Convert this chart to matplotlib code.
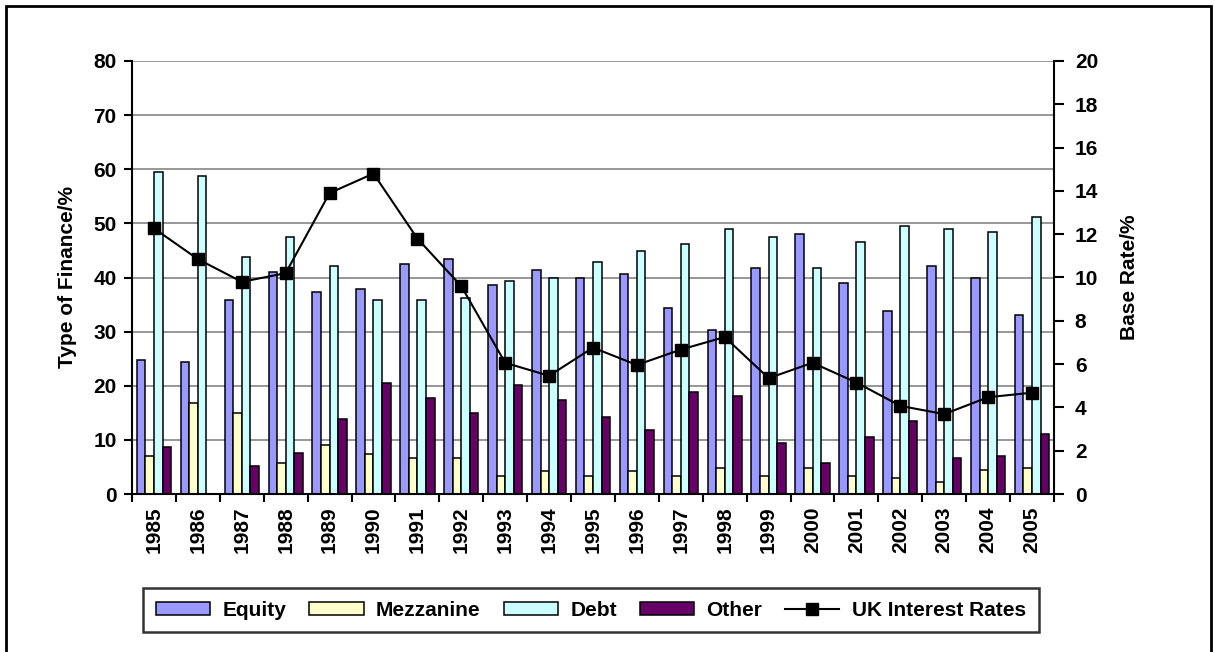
import numpy as np
import matplotlib.pyplot as plt
from matplotlib.patches import Rectangle

plt.rcParams['font.family'] = ['Liberation Sans', 'DejaVu Sans']
plt.rcParams['font.weight'] = 'bold'

years = [str(y) for y in range(1985, 2006)]
equity = [24.8, 24.4, 35.8, 41.0, 37.4, 37.8, 42.5, 43.4, 38.6, 41.4, 39.9,
          40.6, 34.3, 30.3, 41.8, 48.0, 38.9, 33.8, 42.2, 39.9, 33.1]
mezzanine = [7.1, 16.9, 14.9, 5.8, 9.0, 7.4, 6.7, 6.7, 3.4, 4.2, 3.4,
             4.2, 3.4, 4.8, 3.4, 4.8, 3.4, 3.0, 2.3, 4.4, 4.8]
debt = [59.5, 58.7, 43.7, 47.4, 42.2, 35.8, 35.8, 36.3, 39.3, 39.9, 42.9,
        44.9, 46.1, 48.9, 47.4, 41.8, 46.5, 49.6, 48.9, 48.4, 51.2]
other = [8.7, 0.0, 5.2, 7.5, 13.8, 20.5, 17.7, 14.9, 20.1, 17.4, 14.2,
         11.9, 18.9, 18.1, 9.4, 5.8, 10.6, 13.4, 6.7, 7.1, 11.0]
uk_rates = [12.27, 10.85, 9.8, 10.2, 13.9, 14.8, 11.8, 9.6, 6.06, 5.46, 6.76,
            5.96, 6.67, 7.25, 5.35, 6.06, 5.15, 4.07, 3.69, 4.47, 4.68]

series = [("Equity", equity, "#9999FF"),
          ("Mezzanine", mezzanine, "#FFFFCC"),
          ("Debt", debt, "#CCFFFF"),
          ("Other", other, "#660066")]

FS = 15
W, H = 1215, 652
fig = plt.figure(figsize=(W / 100, H / 100), dpi=100)
# plot area in pixels: x 132..1054, y 61..494
ax = fig.add_axes([132 / W, (H - 494) / H, 922 / W, 433 / H])

x = np.arange(len(years))
w = 0.195
handles = []
for i, (name, vals, col) in enumerate(series):
    b = ax.bar(x + (i - 1.5) * w, vals, w, color=col, edgecolor="black",
               linewidth=1.1, label=name, zorder=2)
    handles.append(b)

ax.set_xlim(-0.5, len(years) - 0.5)
ax.set_ylim(0, 80)
ax.set_yticks(range(0, 81, 10))
ax.yaxis.grid(True, color="#7a7a7a", linewidth=1.1)
ax.set_axisbelow(True)

ax.set_xticks(np.arange(-0.5, len(years), 1))
ax.set_xticklabels([])
ax.set_xticks(x, minor=True)
ax.set_xticklabels(years, minor=True, rotation=90, fontsize=FS,
                   fontweight="bold")
ax.tick_params(axis="x", which="major", length=6, width=1.5)
ax.tick_params(axis="x", which="minor", length=0, pad=9)
ax.tick_params(axis="y", length=6, width=1.5, labelsize=FS, pad=5)
ax.spines["top"].set_visible(False)
ax.spines["right"].set_visible(False)
for s in ["left", "bottom"]:
    ax.spines[s].set_linewidth(1.5)
ax.set_ylabel("Type of Finance/%", fontsize=FS, fontweight="bold",
              labelpad=12)

ax2 = ax.twinx()
line, = ax2.plot(x, uk_rates, color="black", marker="s", markersize=8.5,
                 linewidth=1.5, label="UK Interest Rates")
ax2.set_ylim(0, 20)
ax2.set_yticks(range(0, 21, 2))
ax2.tick_params(axis="y", length=7, width=1.5, labelsize=FS, pad=8)
ax2.spines["top"].set_visible(False)
ax2.spines["left"].set_visible(False)
ax2.spines["bottom"].set_visible(False)
ax2.spines["right"].set_linewidth(1.5)
ax2.set_ylabel("Base Rate/%", fontsize=FS, fontweight="bold", labelpad=16)

leg = fig.legend(handles + [line], [s[0] for s in series] + ["UK Interest Rates"],
                 loc="center", bbox_to_anchor=(591 / W, 1 - 610 / H), ncol=5,
                 frameon=True, fancybox=False, edgecolor="black",
                 handlelength=2.6, handleheight=0.6, handletextpad=0.6,
                 columnspacing=1.1, borderpad=0.6,
                 prop={"size": FS, "weight": "bold"})
leg.get_frame().set_linewidth(1.8)

# chart border (bottom edge is cut off in the reference)
fig.add_artist(Rectangle((6 / W, -0.05), 1205 / W, 1.05 - 6 / H,
                         transform=fig.transFigure, fill=False,
                         edgecolor="black", linewidth=2))

fig.savefig("out.png", dpi=100)
